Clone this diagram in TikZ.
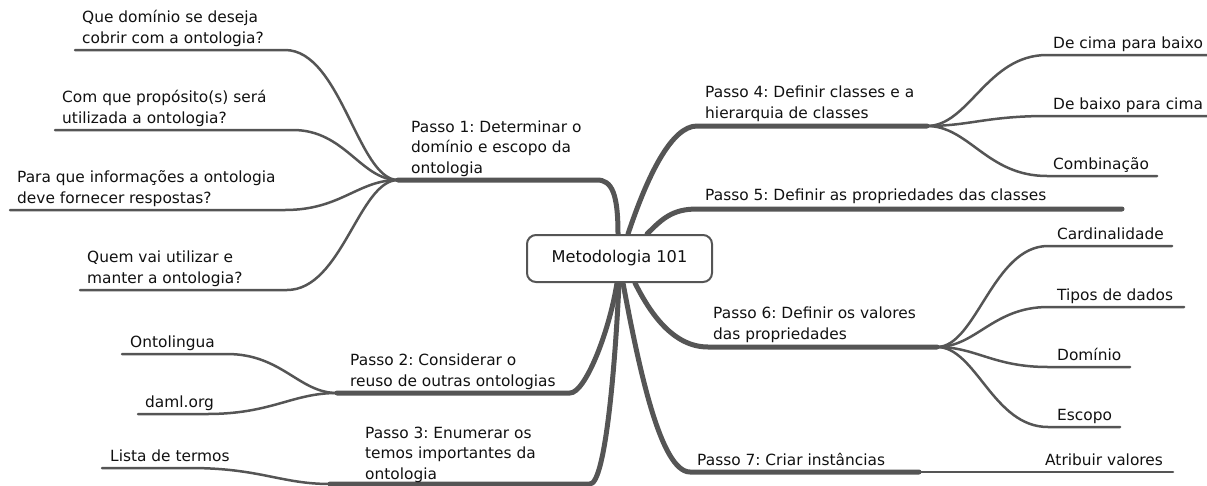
\documentclass[tikz,border=0pt]{standalone}
\usepackage{fontspec}
\setmainfont{DejaVu Sans}
\usetikzlibrary{backgrounds}

\definecolor{linegray}{HTML}{555555}
\definecolor{inkgray}{HTML}{111111}

% left-aligned block whose baseline is that of its last line
\newcommand\mlines[1]{\begin{tabular}[b]{@{}l@{}}#1\end{tabular}}

\tikzset{
  branch/.style={draw=linegray, line width=5pt, line cap=round, line join=round},
  twig/.style={draw=linegray, line width=2.5pt, line cap=round, line join=round},
  lbl/.style={inner sep=0pt, anchor=base west, text=inkgray,
              font=\fontsize{15.4}{20.5}\selectfont\frenchspacing},
  hub/.style={draw=linegray, line width=2pt, rounded corners=9pt, fill=white,
              minimum width=185pt, minimum height=47pt, inner sep=0pt, text=inkgray,
              font=\fontsize{16.2}{20.5}\selectfont}
}

\begin{document}
\begin{tikzpicture}[x=1pt,y=-1pt]
\useasboundingbox (0,0) rectangle (1207,485);

% central topic
\node[hub] (c) at (619.5,258.5) {Metodologia 101};

% roots of the main branches on the central topic
\coordinate (r1) at ([xshift=-1.5pt]c.north);
\coordinate (r4) at ([xshift=8.5pt]c.north);
\coordinate (r5) at ([xshift=27.5pt]c.north);
\coordinate (r2) at ([xshift=-2.5pt]c.south);
\coordinate (r3) at ([xshift=-0.5pt]c.south);
\coordinate (r7) at ([xshift=3.5pt]c.south);
\coordinate (r6) at ([xshift=15.5pt]c.south);

% main branch underlines: (hX) near end, (fX) far end / fork
\coordinate (h1) at (597,180);  \coordinate (f1) at (398,180);
\coordinate (h2) at (570,393);  \coordinate (f2) at (337,393);
\coordinate (h3) at (590,484);  \coordinate (f3) at (330,484);
\coordinate (h4) at (697,126);  \coordinate (f4) at (927,126);
\coordinate (h5) at (697,209);  \coordinate (f5) at (1122,209);
\coordinate (h6) at (708,347);  \coordinate (f6) at (937,347);
\coordinate (h7) at (690,472);  \coordinate (f7) at (919,472);

% sub-topic underlines: (eXY) near end, (gXY) far end
\coordinate (e11) at (285,50);   \coordinate (g11) at (75,50);
\coordinate (e12) at (293,130);  \coordinate (g12) at (55,130);
\coordinate (e13) at (285,210);  \coordinate (g13) at (10,210);
\coordinate (e14) at (287,290);  \coordinate (g14) at (80,290);
\coordinate (e21) at (227,354);  \coordinate (g21) at (122,354);
\coordinate (e22) at (207,414);  \coordinate (g22) at (138,414);
\coordinate (e31) at (190,468);  \coordinate (g31) at (102,468);
\coordinate (e41) at (1047,55);  \coordinate (g41) at (1207,55);
\coordinate (e42) at (1047,116); \coordinate (g42) at (1207,116);
\coordinate (e43) at (1047,176); \coordinate (g43) at (1157,176);
\coordinate (e61) at (1048,246); \coordinate (g61) at (1172,246);
\coordinate (e62) at (1048,307); \coordinate (g62) at (1184,307);
\coordinate (e63) at (1048,367); \coordinate (g63) at (1130,367);
\coordinate (e64) at (1048,427); \coordinate (g64) at (1120,427);
\coordinate (e71) at (1040,472); \coordinate (g71) at (1173,472);

\begin{scope}[on background layer]
  % main branches
  \draw[branch] (r1) .. controls +(0,-40) and +(15,0) .. (h1) -- (f1);
  \draw[branch] (r2) .. controls +(-8,50) and +(15,0) .. (h2) -- (f2);
  \draw[branch] (r3) .. controls +(-4,87) and +(15,0) .. (h3) -- (f3);
  \draw[branch] (r4) .. controls +(20,-60) and +(-25,0) .. (h4) -- (f4);
  \draw[branch] (r5) .. controls +(15,-15) and +(-25,0) .. (h5) -- (f5);
  \draw[branch] (r6) .. controls +(15,30) and +(-35,0) .. (h6) -- (f6);
  \draw[branch] (r7) .. controls +(15,80) and +(-30,0) .. (h7) -- (f7);

  % sub-topics of step 1
  \draw[twig] (f1) .. controls +(-40,0) and +(56,0) .. (e11) -- (g11);
  \draw[twig] (f1) .. controls +(-37,0) and +(52,0) .. (e12) -- (g12);
  \draw[twig] (f1) .. controls +(-40,0) and +(56,0) .. (e13) -- (g13);
  \draw[twig] (f1) .. controls +(-39,0) and +(55,0) .. (e14) -- (g14);
  % sub-topics of step 2
  \draw[twig] (f2) .. controls +(-38,0) and +(55,0) .. (e21) -- (g21);
  \draw[twig] (f2) .. controls +(-45,0) and +(65,0) .. (e22) -- (g22);
  % sub-topic of step 3
  \draw[twig] (f3) .. controls +(-49,0) and +(70,0) .. (e31) -- (g31);
  % sub-topics of step 4
  \draw[twig] (f4) .. controls +(42,0) and +(-60,0) .. (e41) -- (g41);
  \draw[twig] (f4) .. controls +(42,0) and +(-60,0) .. (e42) -- (g42);
  \draw[twig] (f4) .. controls +(42,0) and +(-60,0) .. (e43) -- (g43);
  % sub-topics of step 6
  \draw[twig] (f6) .. controls +(39,0) and +(-55,0) .. (e61) -- (g61);
  \draw[twig] (f6) .. controls +(39,0) and +(-55,0) .. (e62) -- (g62);
  \draw[twig] (f6) .. controls +(39,0) and +(-55,0) .. (e63) -- (g63);
  \draw[twig] (f6) .. controls +(39,0) and +(-55,0) .. (e64) -- (g64);
  % sub-topic of step 7
  \draw[twig] (f7) -- (e71) -- (g71);
\end{scope}

% main topics
\node[lbl] (t1) at (411,173) {\mlines{Passo 1: Determinar o\\domínio e escopo da\\ontologia}};
\node[lbl] (t2) at (350,386) {\mlines{Passo 2: Considerar o\\reuso de outras ontologias}};
\node[lbl] (t3) at (365,479) {\mlines{Passo 3: Enumerar os\\temos importantes da\\ontologia}};
\node[lbl] (t4) at (705,118) {\mlines{Passo 4: Definir classes e a\\hierarquia de classes}};
\node[lbl] (t5) at (705,200) {Passo 5: Definir as propriedades das classes};
\node[lbl] (t6) at (713,339) {\mlines{Passo 6: Definir os valores\\das propriedades}};
\node[lbl] (t7) at (697,465) {Passo 7: Criar instâncias};

% sub-topics
\node[lbl] (s11) at (82,43)  {\mlines{Que domínio se deseja\\cobrir com a ontologia?}};
\node[lbl] (s12) at (62,123) {\mlines{Com que propósito(s) será\\utilizada a ontologia?}};
\node[lbl] (s13) at (17,203) {\mlines{Para que informações a ontologia\\deve fornecer respostas?}};
\node[lbl] (s14) at (87,283) {\mlines{Quem vai utilizar e\\manter a ontologia?}};
\node[lbl] (s21) at (130,347) {Ontolingua};
\node[lbl] (s22) at (145,407) {daml.org};
\node[lbl] (s31) at (110,461) {Lista de termos};
\node[lbl] (s41) at (1053,48)  {De cima para baixo};
\node[lbl] (s42) at (1053,109) {De baixo para cima};
\node[lbl] (s43) at (1053,169) {Combinação};
\node[lbl] (s61) at (1057,239) {Cardinalidade};
\node[lbl] (s62) at (1057,300) {Tipos de dados};
\node[lbl] (s63) at (1057,360) {Domínio};
\node[lbl] (s64) at (1057,420) {Escopo};
\node[lbl] (s71) at (1045,465) {Atribuir valores};
\end{tikzpicture}
\end{document}
